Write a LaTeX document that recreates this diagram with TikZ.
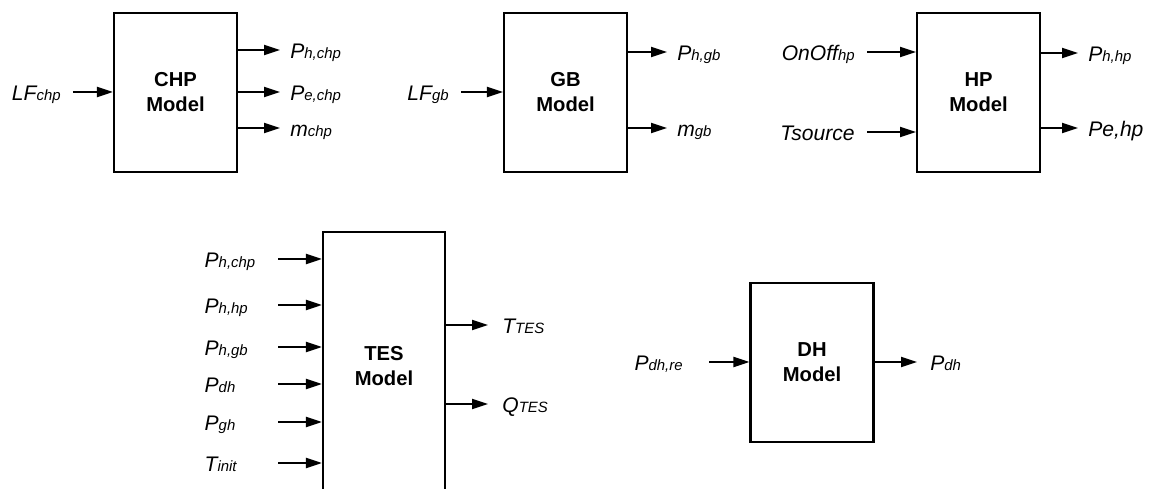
\documentclass[tikz,border=0pt]{standalone}
\usepackage{fontspec}
\setmainfont{Liberation Sans}
\usetikzlibrary{arrows.meta, positioning}

\newcommand{\lowtxt}[1]{{\fontsize{8.5}{10}\selectfont #1}}

\begin{document}
\begin{tikzpicture}[
    x=0.02cm, y=-0.02cm,
    model/.style={rectangle, draw, line width=1.2pt, minimum width=2.46cm, minimum height=3.18cm, inner sep=0pt, align=center, font=\fontsize{11.5}{14.2}\selectfont\bfseries},
    inlbl/.style={anchor=east, inner sep=0pt, text height=0.44cm, text depth=0.08cm, font=\fontsize{12}{14}\selectfont\itshape},
    outlbl/.style={anchor=west, inner sep=0pt, text height=0.44cm, text depth=0.08cm, font=\fontsize{12}{14}\selectfont\itshape},
    arrow/.style={-{Triangle[length=0.32cm, width=0.2cm]}, line width=1.2pt},
    inarrow/.style={arrow, shorten <=0.24cm},
    outarrow/.style={arrow, shorten >=0.2cm}
]
\useasboundingbox (0,0) rectangle (1156,489);
\clip (0,0) rectangle (1156,489);

% model blocks
\node[model] (chp) at (175.5,92.5) {CHP\\Model};
\node[model, right=5.3cm of chp] (gb) {GB\\Model};
\node[model, right=5.76cm of gb] (hp) {HP\\Model};
\node[model, minimum width=2.44cm, minimum height=5.36cm] (tes) at (384,366) {TES\\Model};
\node[model] (dh) at (812,362.5) {DH\\Model};

% CHP
\node[inlbl] (lfchp) at (61,92) {LF\lowtxt{chp}};
\node[outlbl] (phchp) at (290,50) {P\lowtxt{h,chp}};
\node[outlbl] (pechp) at (290,92) {P\lowtxt{e,chp}};
\node[outlbl] (mchp) at (290,128) {m\lowtxt{chp}};
\draw[inarrow] (lfchp.east) -- (lfchp.east -| chp.west);
\draw[outarrow] (chp.east |- phchp.west) -- (phchp.west);
\draw[outarrow] (chp.east |- pechp.west) -- (pechp.west);
\draw[outarrow] (chp.east |- mchp.west) -- (mchp.west);

% GB
\node[inlbl] (lfgb) at (449,92) {LF\lowtxt{gb}};
\node[outlbl] (phgb) at (677,52) {P\lowtxt{h,gb}};
\node[outlbl] (mgb) at (677,128) {m\lowtxt{gb}};
\draw[inarrow] (lfgb.east) -- (lfgb.east -| gb.west);
\draw[outarrow] (gb.east |- phgb.west) -- (phgb.west);
\draw[outarrow] (gb.east |- mgb.west) -- (mgb.west);

% HP
\node[inlbl] (onoff) at (855,52) {OnOff\lowtxt{hp}};
\node[inlbl] (tsource) at (855,132) {Tsource};
\node[outlbl] (phhp) at (1088,53) {P\lowtxt{h,hp}};
\node[outlbl] (pehp) at (1088,128) {Pe,hp};
\draw[inarrow] (onoff.east) -- (onoff.east -| hp.west);
\draw[inarrow] (tsource.east) -- (tsource.east -| hp.west);
\draw[outarrow] (hp.east |- phhp.west) -- (phhp.west);
\draw[outarrow] (hp.east |- pehp.west) -- (pehp.west);

% TES
\tikzset{teslbl/.style={inlbl, text width=1.22cm, align=left}}
\node[teslbl] (tphchp) at (266,259) {P\lowtxt{h,chp}};
\node[teslbl] (tphhp) at (266,305) {P\lowtxt{h,hp}};
\node[teslbl] (tphgb) at (266,347) {P\lowtxt{h,gb}};
\node[teslbl] (tpdh) at (266,384) {P\lowtxt{dh}};
\node[teslbl] (tpgh) at (266,422) {P\lowtxt{gh}};
\node[teslbl] (tinit) at (266,463) {T\lowtxt{init}};
\node[outlbl] (ttes) at (502,325) {T\lowtxt{TES}};
\node[outlbl] (qtes) at (502,404) {Q\lowtxt{TES}};
\draw[inarrow] (tphchp.east) -- (tphchp.east -| tes.west);
\draw[inarrow] (tphhp.east) -- (tphhp.east -| tes.west);
\draw[inarrow] (tphgb.east) -- (tphgb.east -| tes.west);
\draw[inarrow] (tpdh.east) -- (tpdh.east -| tes.west);
\draw[inarrow] (tpgh.east) -- (tpgh.east -| tes.west);
\draw[inarrow] (tinit.east) -- (tinit.east -| tes.west);
\draw[outarrow, shorten >=0.28cm] (tes.east |- ttes.west) -- (ttes.west);
\draw[outarrow, shorten >=0.28cm] (tes.east |- qtes.west) -- (qtes.west);

% DH
\node[inlbl] (pdhre) at (683,362) {P\lowtxt{dh,re}};
\node[outlbl] (pdh) at (930,362) {P\lowtxt{dh}};
\draw[inarrow, shorten <=0.52cm] (pdhre.east) -- (pdhre.east -| dh.west);
\draw[outarrow, shorten >=0.26cm] (dh.east |- pdh.west) -- (pdh.west);
\end{tikzpicture}
\end{document}
